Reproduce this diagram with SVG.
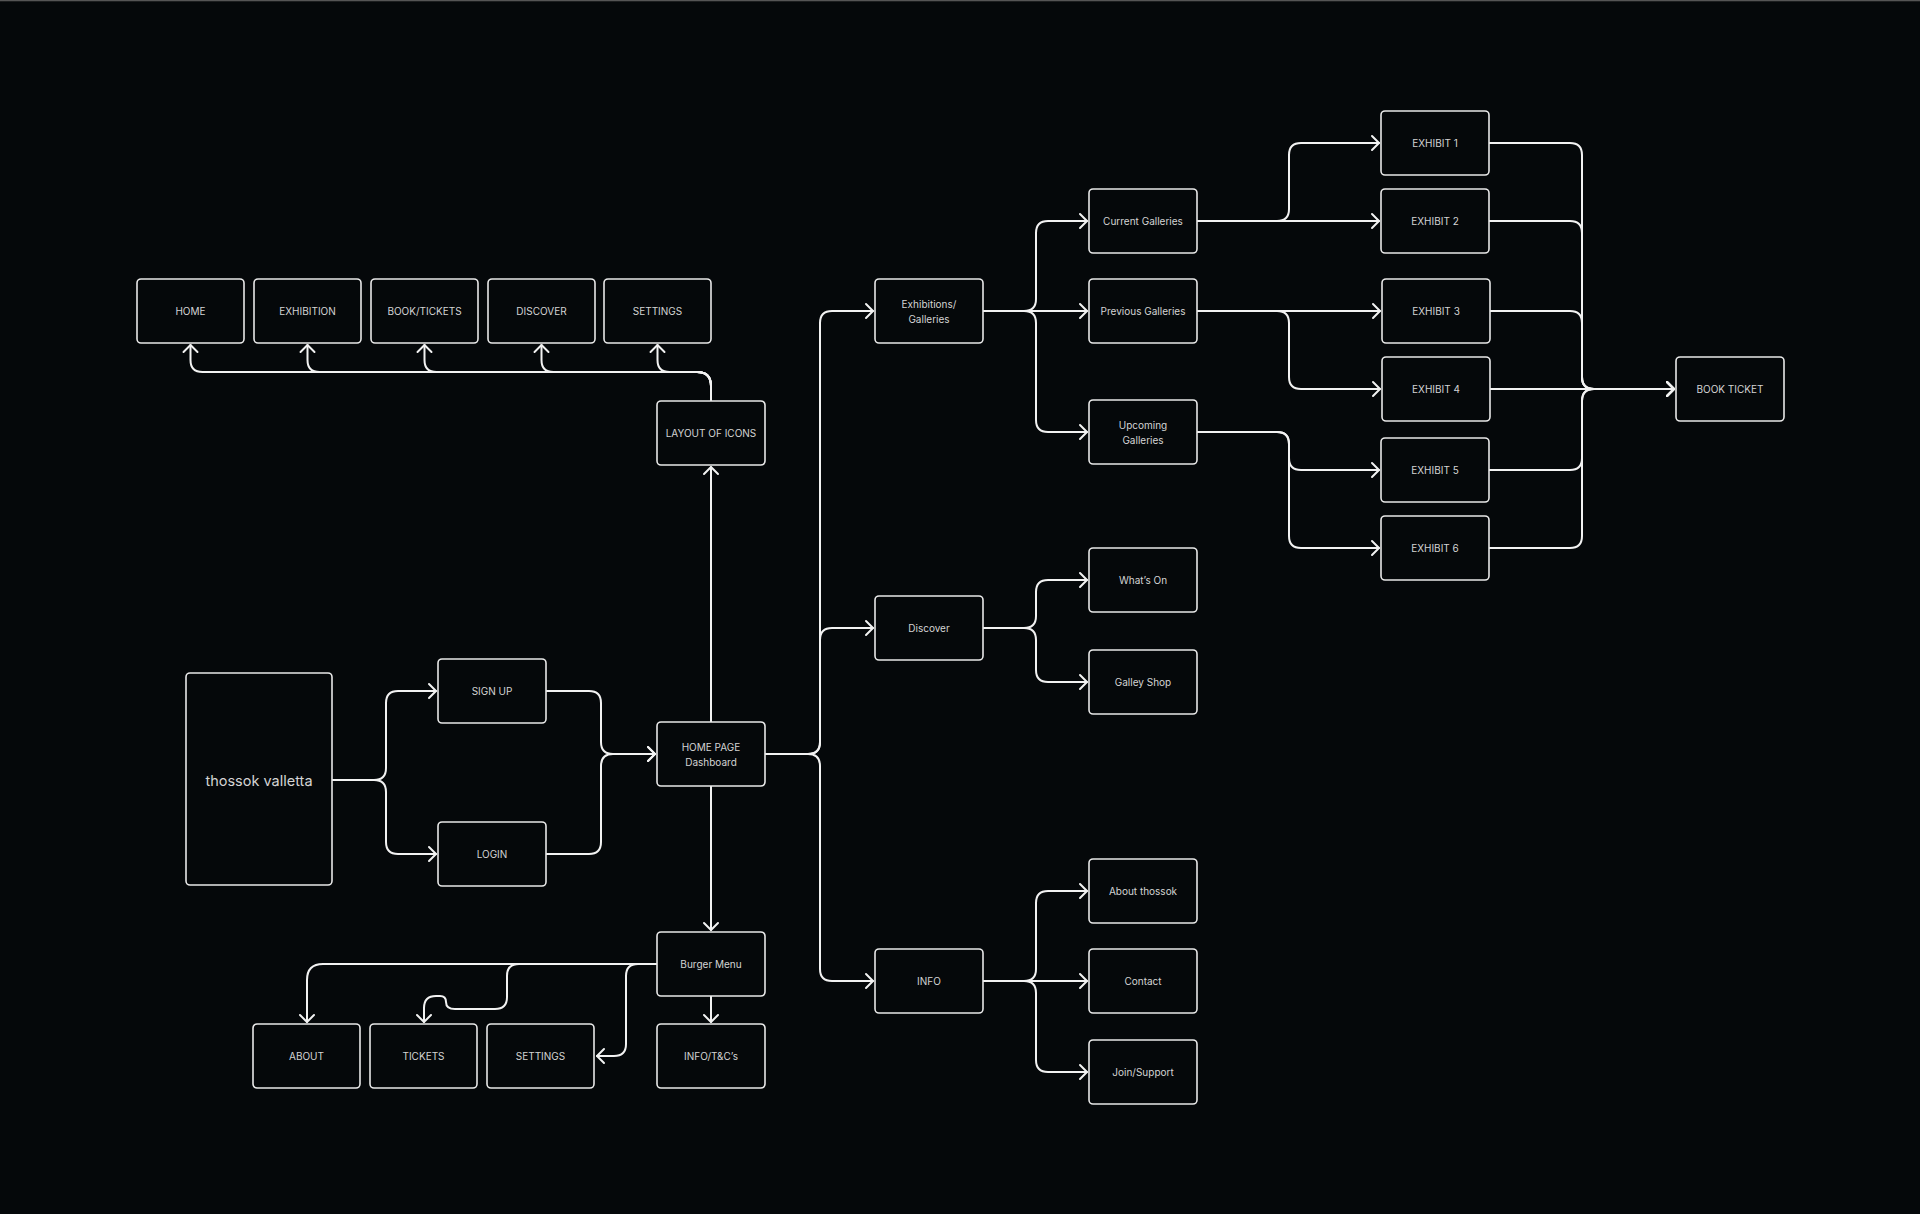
<svg xmlns="http://www.w3.org/2000/svg" width="1920" height="1214" viewBox="0 0 1920 1214">
  <style>
    .box { fill: #05080a; stroke: #e8e8e8; stroke-width: 1.6; }
    .lbl { font-family: Inter, "Liberation Sans", Arial, sans-serif; font-size: 10px; fill: #d4d4d4; text-anchor: middle; dominant-baseline: central; }
    .big { font-size: 14.5px; }
    .con { fill: none; stroke: #f2f2f2; stroke-width: 2; stroke-linecap: round; stroke-linejoin: round; marker-end: url(#ah); }
  </style>
  <defs>
    <marker id="ah" viewBox="-10 -10 20 20" refX="0" refY="0" markerWidth="20" markerHeight="20" markerUnits="userSpaceOnUse" orient="auto">
      <path d="M-7,-7 L0,0 L-7,7" fill="none" stroke="#f2f2f2" stroke-width="2" stroke-linecap="round" stroke-linejoin="round"/>
    </marker>
  </defs>
  <rect x="0" y="0" width="1920" height="1214" fill="#05080a"/>
  <rect x="0" y="0" width="1920" height="1.3" fill="#555555"/>

  <g id="connectors">
    <path class="con" d="M711,401 V386 Q711,372 697,372 H202.5 Q190.5,372 190.5,360 V345"/>
    <path class="con" d="M711,401 V386 Q711,372 697,372 H319.5 Q307.5,372 307.5,360 V345"/>
    <path class="con" d="M711,401 V386 Q711,372 697,372 H436.5 Q424.5,372 424.5,360 V345"/>
    <path class="con" d="M711,401 V386 Q711,372 697,372 H553.5 Q541.5,372 541.5,360 V345"/>
    <path class="con" d="M711,401 V386 Q711,372 697,372 H669.5 Q657.5,372 657.5,360 V345"/>
    <path class="con" d="M711,722 V467"/>
    <path class="con" d="M711,786 V930"/>
    <path class="con" d="M711,996 V1022"/>
    <path class="con" d="M657,964 H323 Q307,964 307,980 V1022"/>
    <path class="con" d="M657,964 H519 Q507,964 507,976 V997 Q507,1009 495,1009 H455 Q446,1009 446,1002 Q446,996 440,996 H436 Q424,996 424,1008 V1022"/>
    <path class="con" d="M657,964 H638 Q626,964 626,976 V1044 Q626,1056 614,1056 H597"/>
    <path class="con" d="M332,780 H374 Q386,780 386,768 V703 Q386,691 398,691 H436"/>
    <path class="con" d="M332,780 H374 Q386,780 386,792 V842 Q386,854 398,854 H436"/>
    <path class="con" d="M546,691 H589 Q601,691 601,703 V742 Q601,754 613,754 H655"/>
    <path class="con" d="M546,854 H589 Q601,854 601,842 V766 Q601,754 613,754 H655"/>
    <path class="con" d="M765,754 H808 Q820,754 820,742 V323 Q820,311 832,311 H873"/>
    <path class="con" d="M765,754 H808 Q820,754 820,742 V640 Q820,628 832,628 H873"/>
    <path class="con" d="M765,754 H808 Q820,754 820,766 V969 Q820,981 832,981 H873"/>
    <path class="con" d="M983,311 H1024 Q1036,311 1036,299 V233 Q1036,221 1048,221 H1087"/>
    <path class="con" d="M983,311 H1087"/>
    <path class="con" d="M983,311 H1024 Q1036,311 1036,323 V420 Q1036,432 1048,432 H1087"/>
    <path class="con" d="M983,628 H1024 Q1036,628 1036,616 V592 Q1036,580 1048,580 H1087"/>
    <path class="con" d="M983,628 H1024 Q1036,628 1036,640 V670 Q1036,682 1048,682 H1087"/>
    <path class="con" d="M983,981 H1024 Q1036,981 1036,969 V903 Q1036,891 1048,891 H1087"/>
    <path class="con" d="M983,981 H1087"/>
    <path class="con" d="M983,981 H1024 Q1036,981 1036,993 V1060 Q1036,1072 1048,1072 H1087"/>
    <path class="con" d="M1197,221 H1277 Q1289,221 1289,209 V155 Q1289,143 1301,143 H1379"/>
    <path class="con" d="M1197,221 H1379"/>
    <path class="con" d="M1197,311 H1380"/>
    <path class="con" d="M1197,311 H1277 Q1289,311 1289,323 V377 Q1289,389 1301,389 H1380"/>
    <path class="con" d="M1197,432 H1277 Q1289,432 1289,444 V458 Q1289,470 1301,470 H1379"/>
    <path class="con" d="M1197,432 H1277 Q1289,432 1289,444 V536 Q1289,548 1301,548 H1379"/>
    <path class="con" d="M1489,143 H1570 Q1582,143 1582,155 V377 Q1582,389 1594,389 H1674"/>
    <path class="con" d="M1489,221 H1570 Q1582,221 1582,233 V377 Q1582,389 1594,389 H1674"/>
    <path class="con" d="M1490,311 H1570 Q1582,311 1582,323 V377 Q1582,389 1594,389 H1674"/>
    <path class="con" d="M1490,389 H1674"/>
    <path class="con" d="M1489,470 H1570 Q1582,470 1582,458 V401 Q1582,389 1594,389 H1674"/>
    <path class="con" d="M1489,548 H1570 Q1582,548 1582,536 V401 Q1582,389 1594,389 H1674"/>
  </g>

  <g id="home"><rect class="box" x="137" y="279" width="107" height="64" rx="4"/><text class="lbl" x="190.5" y="311">HOME</text></g>
  <g id="exhibition"><rect class="box" x="254" y="279" width="107" height="64" rx="4"/><text class="lbl" x="307.5" y="311">EXHIBITION</text></g>
  <g id="book-tickets"><rect class="box" x="371" y="279" width="107" height="64" rx="4"/><text class="lbl" x="424.5" y="311">BOOK/TICKETS</text></g>
  <g id="discover-top"><rect class="box" x="488" y="279" width="107" height="64" rx="4"/><text class="lbl" x="541.5" y="311">DISCOVER</text></g>
  <g id="settings-top"><rect class="box" x="604" y="279" width="107" height="64" rx="4"/><text class="lbl" x="657.5" y="311">SETTINGS</text></g>
  <g id="layout-of-icons"><rect class="box" x="657" y="401" width="108" height="64" rx="4"/><text class="lbl" x="711" y="433">LAYOUT OF ICONS</text></g>

  <g id="thossok-valletta"><rect class="box" x="186" y="673" width="146" height="212" rx="4"/><text class="lbl big" x="259" y="780">thossok valletta</text></g>
  <g id="sign-up"><rect class="box" x="438" y="659" width="108" height="64" rx="4"/><text class="lbl" x="492" y="691">SIGN UP</text></g>
  <g id="login"><rect class="box" x="438" y="822" width="108" height="64" rx="4"/><text class="lbl" x="492" y="854">LOGIN</text></g>
  <g id="home-page"><rect class="box" x="657" y="722" width="108" height="64" rx="4"/><text class="lbl" x="711" y="747">HOME PAGE</text><text class="lbl" x="711" y="762">Dashboard</text></g>

  <g id="burger-menu"><rect class="box" x="657" y="932" width="108" height="64" rx="4"/><text class="lbl" x="711" y="964">Burger Menu</text></g>
  <g id="about"><rect class="box" x="253" y="1024" width="107" height="64" rx="4"/><text class="lbl" x="306.5" y="1056">ABOUT</text></g>
  <g id="tickets"><rect class="box" x="370" y="1024" width="107" height="64" rx="4"/><text class="lbl" x="423.5" y="1056">TICKETS</text></g>
  <g id="settings-bottom"><rect class="box" x="487" y="1024" width="107" height="64" rx="4"/><text class="lbl" x="540.5" y="1056">SETTINGS</text></g>
  <g id="info-tcs"><rect class="box" x="657" y="1024" width="108" height="64" rx="4"/><text class="lbl" x="711" y="1056">INFO/T&amp;C’s</text></g>

  <g id="exhibitions-galleries"><rect class="box" x="875" y="279" width="108" height="64" rx="4"/><text class="lbl" x="929" y="304">Exhibitions/</text><text class="lbl" x="929" y="319">Galleries</text></g>
  <g id="discover"><rect class="box" x="875" y="596" width="108" height="64" rx="4"/><text class="lbl" x="929" y="628">Discover</text></g>
  <g id="info"><rect class="box" x="875" y="949" width="108" height="64" rx="4"/><text class="lbl" x="929" y="981">INFO</text></g>

  <g id="current-galleries"><rect class="box" x="1089" y="189" width="108" height="64" rx="4"/><text class="lbl" x="1143" y="221">Current Galleries</text></g>
  <g id="previous-galleries"><rect class="box" x="1089" y="279" width="108" height="64" rx="4"/><text class="lbl" x="1143" y="311">Previous Galleries</text></g>
  <g id="upcoming-galleries"><rect class="box" x="1089" y="400" width="108" height="64" rx="4"/><text class="lbl" x="1143" y="425">Upcoming</text><text class="lbl" x="1143" y="440">Galleries</text></g>
  <g id="whats-on"><rect class="box" x="1089" y="548" width="108" height="64" rx="4"/><text class="lbl" x="1143" y="580">What’s On</text></g>
  <g id="galley-shop"><rect class="box" x="1089" y="650" width="108" height="64" rx="4"/><text class="lbl" x="1143" y="682">Galley Shop</text></g>
  <g id="about-thossok"><rect class="box" x="1089" y="859" width="108" height="64" rx="4"/><text class="lbl" x="1143" y="891">About thossok</text></g>
  <g id="contact"><rect class="box" x="1089" y="949" width="108" height="64" rx="4"/><text class="lbl" x="1143" y="981">Contact</text></g>
  <g id="join-support"><rect class="box" x="1089" y="1040" width="108" height="64" rx="4"/><text class="lbl" x="1143" y="1072">Join/Support</text></g>

  <g id="exhibit-1"><rect class="box" x="1381" y="111" width="108" height="64" rx="4"/><text class="lbl" x="1435" y="143">EXHIBIT 1</text></g>
  <g id="exhibit-2"><rect class="box" x="1381" y="189" width="108" height="64" rx="4"/><text class="lbl" x="1435" y="221">EXHIBIT 2</text></g>
  <g id="exhibit-3"><rect class="box" x="1382" y="279" width="108" height="64" rx="4"/><text class="lbl" x="1436" y="311">EXHIBIT 3</text></g>
  <g id="exhibit-4"><rect class="box" x="1382" y="357" width="108" height="64" rx="4"/><text class="lbl" x="1436" y="389">EXHIBIT 4</text></g>
  <g id="exhibit-5"><rect class="box" x="1381" y="438" width="108" height="64" rx="4"/><text class="lbl" x="1435" y="470">EXHIBIT 5</text></g>
  <g id="exhibit-6"><rect class="box" x="1381" y="516" width="108" height="64" rx="4"/><text class="lbl" x="1435" y="548">EXHIBIT 6</text></g>
  <g id="book-ticket"><rect class="box" x="1676" y="357" width="108" height="64" rx="4"/><text class="lbl" x="1730" y="389">BOOK TICKET</text></g>
</svg>
